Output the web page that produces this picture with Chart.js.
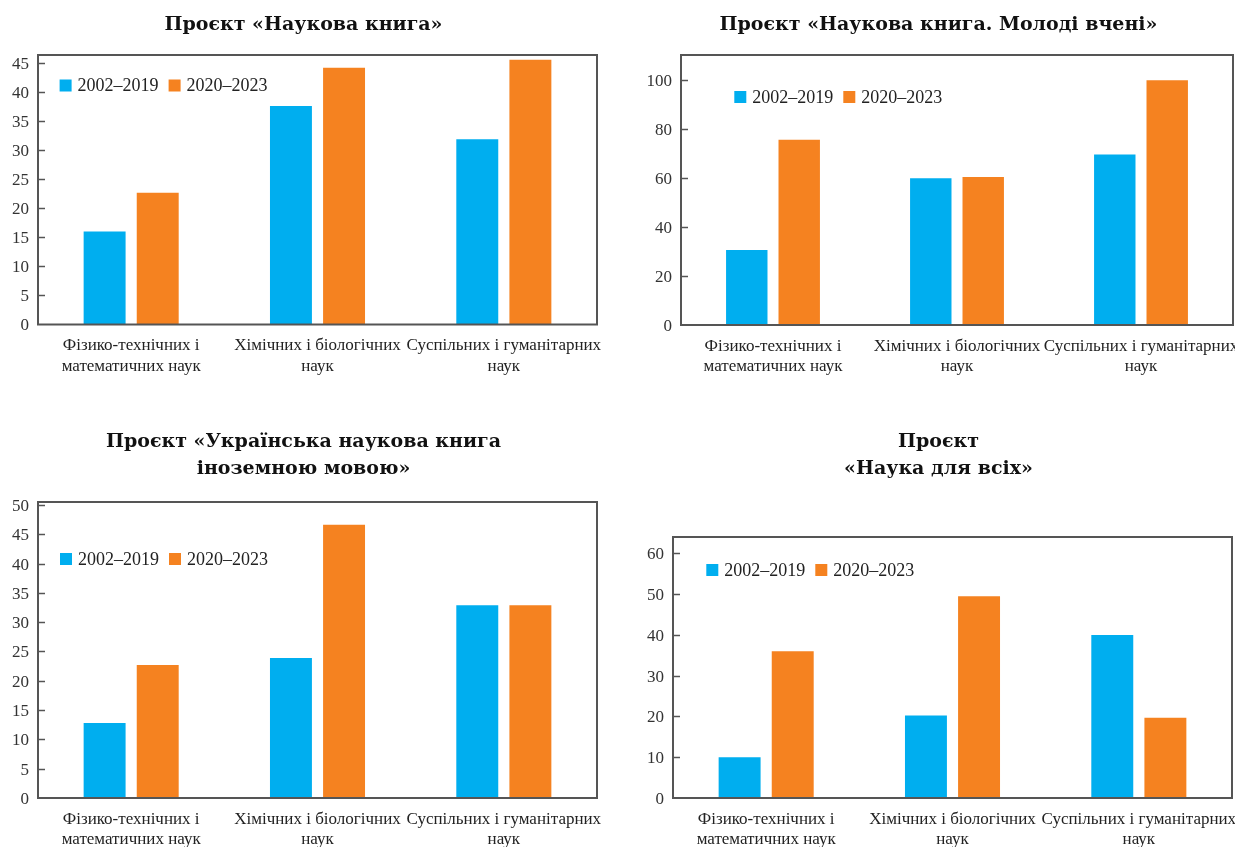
<!DOCTYPE html>
<html lang="uk">
<head>
<meta charset="utf-8">
<title>Проєкти</title>
<script src="https://cdn.jsdelivr.net/npm/chart.js@4.4.1/dist/chart.umd.min.js"></script>
<style>
  html, body { margin:0; padding:0; background:#fff; width:1235px; height:847px; overflow:hidden; }
  .box { position:absolute; }
</style>
</head>
<body>
<div class="box" style="left:0;top:0;width:610px;height:390px;"><canvas id="bookChart"></canvas></div>
<div class="box" style="left:620px;top:0;width:640px;height:390px;"><canvas id="youngChart"></canvas></div>
<div class="box" style="left:0;top:420px;width:610px;height:427px;"><canvas id="foreignChart"></canvas></div>
<div class="box" style="left:620px;top:420px;width:640px;height:427px;"><canvas id="allChart"></canvas></div>

<script>
// ── DATA ──────────────────────────────────────────────────────────────────────
const categories = [
  ['Фізико-технічних і', 'математичних наук'],
  ['Хімічних і біологічних', 'наук'],
  ['Суспільних і гуманітарних', 'наук'],
];
const periods = ['2002–2019', '2020–2023'];

const bookOld    = [16, 37.6, 31.9];
const bookNew    = [22.7, 44.2, 45.6];
const youngOld   = [30.6, 59.8, 69.5];
const youngNew   = [75.5, 60.3, 99.7];
const foreignOld = [12.8, 23.9, 32.9];
const foreignNew = [22.7, 46.6, 32.9];
const allOld     = [10, 20.2, 40];
const allNew     = [36, 49.5, 19.7];

const ticks45  = [0, 5, 10, 15, 20, 25, 30, 35, 40, 45];
const ticks50  = [0, 5, 10, 15, 20, 25, 30, 35, 40, 45, 50];
const ticks100 = [0, 20, 40, 60, 80, 100];
const ticks60  = [0, 10, 20, 30, 40, 50, 60];

// ── STYLE ─────────────────────────────────────────────────────────────────────
const BLUE = '#00aeef', ORANGE = '#f58220', FRAME = '#555';
const FONT = '"Liberation Serif", "DejaVu Serif", serif';
Chart.defaults.font.family = FONT;
Chart.defaults.animation = false;

// frame, inner tick marks and the legend inside the plot
const framePlugin = {
  id: 'frame',
  afterDatasetsDraw(chart, args, opts) {
    const { ctx, chartArea: a } = chart;
    const y = chart.scales.y;
    ctx.save();
    ctx.strokeStyle = FRAME;
    ctx.lineWidth = 2;
    ctx.strokeRect(a.left, a.top, a.right - a.left, a.bottom - a.top);
    ctx.lineWidth = 1.5;
    y.ticks.forEach(t => {
      if (!t.value) return;
      const py = Math.round(y.getPixelForValue(t.value)) + .5;
      ctx.beginPath(); ctx.moveTo(a.left, py); ctx.lineTo(a.left + 7, py); ctx.stroke();
    });

    ctx.font = '18px ' + FONT;
    ctx.textBaseline = 'middle';
    let x = a.left + opts.dx;
    const cy = a.top + opts.dy;
    chart.data.datasets.forEach(ds => {
      ctx.fillStyle = ds.backgroundColor;
      ctx.fillRect(x, cy - 6, 12, 12);
      x += 18;
      ctx.fillStyle = '#222';
      ctx.fillText(ds.label, x, cy + 1);
      x += ctx.measureText(ds.label).width + 10;
    });
    ctx.restore();
  }
};

// ── BUILD ONE CHART ───────────────────────────────────────────────────────────
function makeChart(id, c) {
  return new Chart(document.getElementById(id), {
    type: 'bar',
    data: {
      labels: categories,
      datasets: [
        { label: periods[0], data: c.old,  backgroundColor: BLUE },
        { label: periods[1], data: c.neu,  backgroundColor: ORANGE },
      ]
    },
    options: {
      responsive: true, maintainAspectRatio: false,
      layout: { padding: { left: c.padLeft, right: c.padRight, top: 0, bottom: 0 } },
      datasets: { bar: { categoryPercentage: .57, barPercentage: .79 } },
      plugins: {
        legend: { display: false },
        tooltip: { enabled: false },
        title: {
          display: true, text: c.title, color: '#111',
          font: { family: '"DejaVu Serif", serif', size: 19, weight: 'bold', lineHeight: 27 / 19 },
          padding: { top: c.titleTop, bottom: c.titleBottom }
        },
        frame: { dx: c.legend[0], dy: c.legend[1] }
      },
      scales: {
        x: {
          grid: { display: false, drawTicks: false }, border: { display: false },
          ticks: { color: '#222', padding: 11, maxRotation: 0, autoSkip: false, font: { size: 17, lineHeight: 1.2 } },
          afterFit: s => { s.height = c.xHeight; s.paddingLeft = 0; s.paddingRight = 0; }
        },
        y: {
          min: 0, max: c.max,
          grid: { display: false, drawTicks: false }, border: { display: false },
          ticks: { color: '#333', padding: 9, labelOffset: 1.5, font: { size: 17 } },
          afterBuildTicks: s => { s.ticks = c.ticks.map(v => ({ value: v })); },
          afterFit: s => { s.width = c.yWidth; }
        }
      }
    },
    plugins: [framePlugin]
  });
}

// ── INIT ──────────────────────────────────────────────────────────────────────
makeChart('bookChart', {
  title: 'Проєкт «Наукова книга»', old: bookOld, neu: bookNew,
  max: 46.4, ticks: ticks45, padLeft: 10, yWidth: 28, padRight: 13, xHeight: 65.5,
  titleTop: 11.5, titleBottom: 16.5, legend: [21.6, 30.5]
});
makeChart('youngChart', {
  title: 'Проєкт «Наукова книга. Молоді вчені»', old: youngOld, neu: youngNew,
  max: 110, ticks: ticks100, padLeft: 24, yWidth: 37, padRight: 27, xHeight: 65,
  titleTop: 11.5, titleBottom: 16.5, legend: [53.3, 42]
});
makeChart('foreignChart', {
  title: ['Проєкт «Українська наукова книга', 'іноземною мовою»'], old: foreignOld, neu: foreignNew,
  max: 50.5, ticks: ticks50, padLeft: 10, yWidth: 28, padRight: 13, xHeight: 49,
  titleTop: 8.5, titleBottom: 19.5, legend: [22, 57]
});
makeChart('allChart', {
  title: ['Проєкт', '«Наука для всіх»'], old: allOld, neu: allNew,
  max: 64, ticks: ticks60, padLeft: 25, yWidth: 28, padRight: 28, xHeight: 49,
  titleTop: 8.5, titleBottom: 54.5, legend: [33.3, 33]
});
</script>
</body>
</html>
